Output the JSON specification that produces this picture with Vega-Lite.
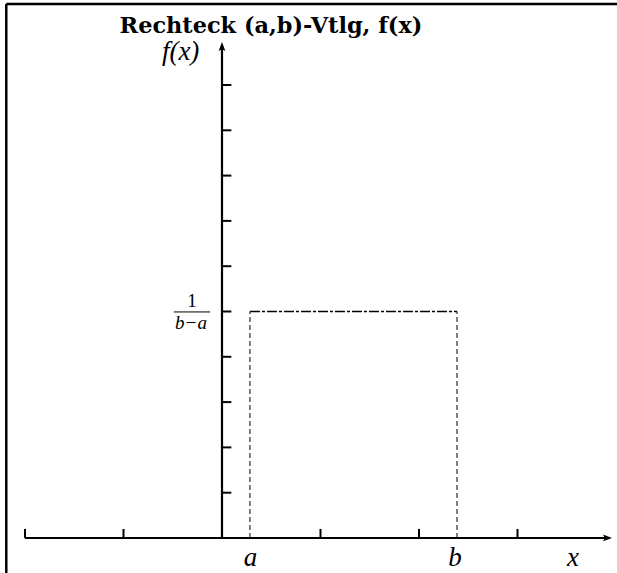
{
  "$schema": "https://vega.github.io/schema/vega-lite/v6.json",
  "width": 617,
  "height": 573,
  "autosize": "none",
  "padding": 0,
  "background": "white",
  "config": {"view": {"stroke": null}},
  "datasets": {
    "frame": [
      {"x": -2.19, "y": 11.79, "x2": 4.01, "y2": 11.79},
      {"x": -2.19, "y": 11.79, "x2": -2.19, "y2": -0.77}
    ],
    "axes": [
      {"x": -2, "y": 0, "x2": 3.92, "y2": 0},
      {"x": 0, "y": 0, "x2": 0, "y2": 10.85}
    ],
    "yticks": [
      {"x": 0, "x2": 0.095, "y": 1, "y2": 1},
      {"x": 0, "x2": 0.095, "y": 2, "y2": 2},
      {"x": 0, "x2": 0.095, "y": 3, "y2": 3},
      {"x": 0, "x2": 0.095, "y": 4, "y2": 4},
      {"x": 0, "x2": 0.095, "y": 5, "y2": 5},
      {"x": 0, "x2": 0.095, "y": 6, "y2": 6},
      {"x": 0, "x2": 0.095, "y": 7, "y2": 7},
      {"x": 0, "x2": 0.095, "y": 8, "y2": 8},
      {"x": 0, "x2": 0.095, "y": 9, "y2": 9},
      {"x": 0, "x2": 0.095, "y": 10, "y2": 10}
    ],
    "xticks": [
      {"x": -2, "x2": -2, "y": 0, "y2": 0.2},
      {"x": -1, "x2": -1, "y": 0, "y2": 0.2},
      {"x": 1, "x2": 1, "y": 0, "y2": 0.2},
      {"x": 2, "x2": 2, "y": 0, "y2": 0.2},
      {"x": 3, "x2": 3, "y": 0, "y2": 0.2}
    ],
    "density_sides": [
      {"x": 0.284, "x2": 0.284, "y": 0, "y2": 5},
      {"x": 2.386, "x2": 2.386, "y": 0, "y2": 5}
    ],
    "density_top": [
      {"x": 0.284, "x2": 2.386, "y": 5, "y2": 5}
    ],
    "fracbar": [
      {"x": -0.49, "x2": -0.12, "y": 4.99, "y2": 4.99}
    ],
    "arrow_x": [{"x": 3.914, "y": 0}],
    "arrow_y": [{"x": 0, "y": 10.85}],
    "labels": [
      {"x": -0.42, "y": 10.73, "text": "f(x)"},
      {"x": 0.29, "y": -0.44, "text": "a"},
      {"x": 2.366, "y": -0.44, "text": "b"},
      {"x": 3.563, "y": -0.44, "text": "x"}
    ],
    "frac_num": [{"x": -0.305, "y": 5.24, "text": "1"}],
    "frac_den": [{"x": -0.315, "y": 4.75, "text": "b−a"}],
    "title": [{"x": 0.497, "y": 11.15, "text": "Rechteck (a,b)-Vtlg, f(x)"}]
  },
  "encoding": {
    "x": {"field": "x", "type": "quantitative", "scale": {"domain": [-2.25381, 4.01015], "nice": false, "zero": false}, "axis": null},
    "y": {"field": "y", "type": "quantitative", "scale": {"domain": [-0.77263, 11.87638], "nice": false, "zero": false}, "axis": null}
  },
  "layer": [
    {
      "data": {"name": "frame"},
      "mark": {"type": "rule", "stroke": "black", "strokeWidth": 2.5},
      "encoding": {"x2": {"field": "x2"}, "y2": {"field": "y2"}}
    },
    {
      "data": {"name": "axes"},
      "mark": {"type": "rule", "stroke": "black", "strokeWidth": 2.2},
      "encoding": {"x2": {"field": "x2"}, "y2": {"field": "y2"}}
    },
    {
      "data": {"name": "yticks"},
      "mark": {"type": "rule", "stroke": "black", "strokeWidth": 2},
      "encoding": {"x2": {"field": "x2"}, "y2": {"field": "y2"}}
    },
    {
      "data": {"name": "xticks"},
      "mark": {"type": "rule", "stroke": "black", "strokeWidth": 2},
      "encoding": {"x2": {"field": "x2"}, "y2": {"field": "y2"}}
    },
    {
      "data": {"name": "density_sides"},
      "mark": {"type": "rule", "stroke": "black", "strokeWidth": 1, "strokeDash": [5, 3]},
      "encoding": {"x2": {"field": "x2"}, "y2": {"field": "y2"}}
    },
    {
      "data": {"name": "density_top"},
      "mark": {"type": "rule", "stroke": "black", "strokeWidth": 1.4, "strokeDash": [10, 2, 3, 2]},
      "encoding": {"x2": {"field": "x2"}, "y2": {"field": "y2"}}
    },
    {
      "data": {"name": "fracbar"},
      "mark": {"type": "rule", "stroke": "black", "strokeWidth": 1},
      "encoding": {"x2": {"field": "x2"}, "y2": {"field": "y2"}}
    },
    {
      "data": {"name": "arrow_x"},
      "mark": {"type": "point", "filled": true, "fill": "black", "stroke": null, "opacity": 1, "size": 81, "shape": "M1,0L-1,-0.75L-0.6,0L-1,0.75Z"}
    },
    {
      "data": {"name": "arrow_y"},
      "mark": {"type": "point", "filled": true, "fill": "black", "stroke": null, "opacity": 1, "size": 81, "shape": "M0,-1L-0.75,1L0,0.6L0.75,1Z"}
    },
    {
      "data": {"name": "labels"},
      "mark": {"type": "text", "font": "serif", "fontStyle": "italic", "fontSize": 27, "align": "center", "baseline": "middle", "fill": "black"},
      "encoding": {"text": {"field": "text"}}
    },
    {
      "data": {"name": "frac_num"},
      "mark": {"type": "text", "font": "serif", "fontSize": 19, "align": "center", "baseline": "middle", "fill": "black"},
      "encoding": {"text": {"field": "text"}}
    },
    {
      "data": {"name": "frac_den"},
      "mark": {"type": "text", "font": "serif", "fontStyle": "italic", "fontSize": 19, "align": "center", "baseline": "middle", "fill": "black"},
      "encoding": {"text": {"field": "text"}}
    },
    {
      "data": {"name": "title"},
      "mark": {"type": "text", "font": "DejaVu Serif", "fontWeight": "bold", "fontSize": 22.4, "align": "center", "baseline": "alphabetic", "fill": "black"},
      "encoding": {"text": {"field": "text"}}
    }
  ]
}
